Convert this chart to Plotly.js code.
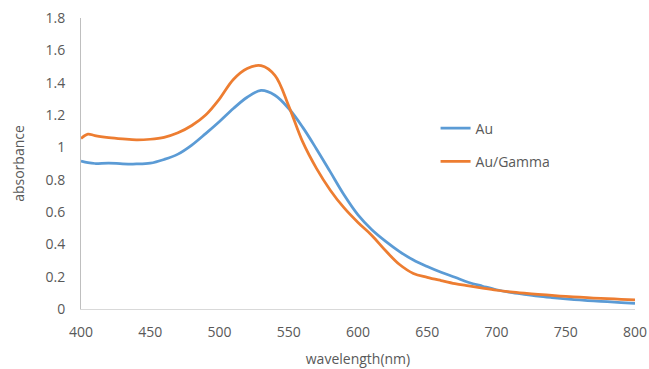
<!DOCTYPE html>
<html>
<head>
<meta charset="utf-8">
<script src="https://cdn.plot.ly/plotly-3.0.1.min.js"></script>
<style>html,body{margin:0;padding:0;background:#fff;}#chart{width:649px;height:369px;}</style>
</head>
<body>
<div id="chart"></div>
<script>
const wavelength = [400,405,410,420,430,440,450,460,470,480,490,500,510,520,530,540,550,560,570,580,590,600,610,620,630,640,650,660,670,680,690,700,710,720,730,740,750,760,770,780,790,800];
const au = [0.915,0.905,0.900,0.903,0.898,0.897,0.902,0.925,0.958,1.014,1.085,1.160,1.240,1.310,1.352,1.322,1.240,1.125,0.990,0.848,0.705,0.582,0.490,0.418,0.355,0.303,0.263,0.227,0.196,0.164,0.141,0.119,0.103,0.091,0.080,0.071,0.063,0.056,0.050,0.045,0.040,0.035];
const auGamma = [1.055,1.082,1.072,1.060,1.052,1.046,1.050,1.062,1.090,1.135,1.200,1.300,1.420,1.488,1.505,1.445,1.255,1.035,0.870,0.735,0.625,0.535,0.455,0.360,0.275,0.220,0.196,0.176,0.157,0.143,0.129,0.116,0.106,0.098,0.091,0.084,0.078,0.073,0.068,0.064,0.060,0.056];
const seriesNames = ['Au','Au/Gamma'];
const xTicks = [400,450,500,550,600,650,700,750,800];
const yTicks = [0,0.2,0.4,0.6,0.8,1,1.2,1.4,1.6,1.8];

const font = {family: '"Open Sans", "Liberation Sans", sans-serif', size: 14, color: '#595959'};
const traces = [
  {x: wavelength, y: au, name: seriesNames[0], type: 'scatter', mode: 'lines', line: {color: '#5B9BD5', width: 2.75, shape: 'spline', smoothing: 1}, legendgroup: 'a'},
  {x: wavelength, y: auGamma, name: seriesNames[1], type: 'scatter', mode: 'lines', line: {color: '#ED7D31', width: 2.75, shape: 'spline', smoothing: 1}, legendgroup: 'b'}
];
const layout = {
  width: 649, height: 369,
  margin: {l: 81, r: 14, t: 18, b: 60},
  paper_bgcolor: '#fff', plot_bgcolor: '#fff',
  font: font,
  showlegend: true,
  legend: {x: 0.64, xanchor: 'left', y: 0.675, yanchor: 'top', bgcolor: 'rgba(0,0,0,0)', traceorder: 'grouped', tracegroupgap: 12, font: font},
  xaxis: {range: [400, 800], tickvals: xTicks, ticktext: xTicks.map(String), showgrid: false, zeroline: false, showline: true, linecolor: '#d9d9d9', linewidth: 1, ticks: '', ticklabelstandoff: 10,
    title: {text: 'wavelength(nm)', font: font, standoff: 14}},
  yaxis: {range: [0, 1.8], tickvals: yTicks, ticktext: yTicks.map(String), showgrid: false, zeroline: false, showline: true, linecolor: '#bfbfbf', linewidth: 1, ticks: '', ticklabelstandoff: 12,
    title: {text: 'absorbance', font: font, standoff: 17}}
};
Plotly.newPlot('chart', traces, layout, {displayModeBar: false, staticPlot: true});
</script>
</body>
</html>
